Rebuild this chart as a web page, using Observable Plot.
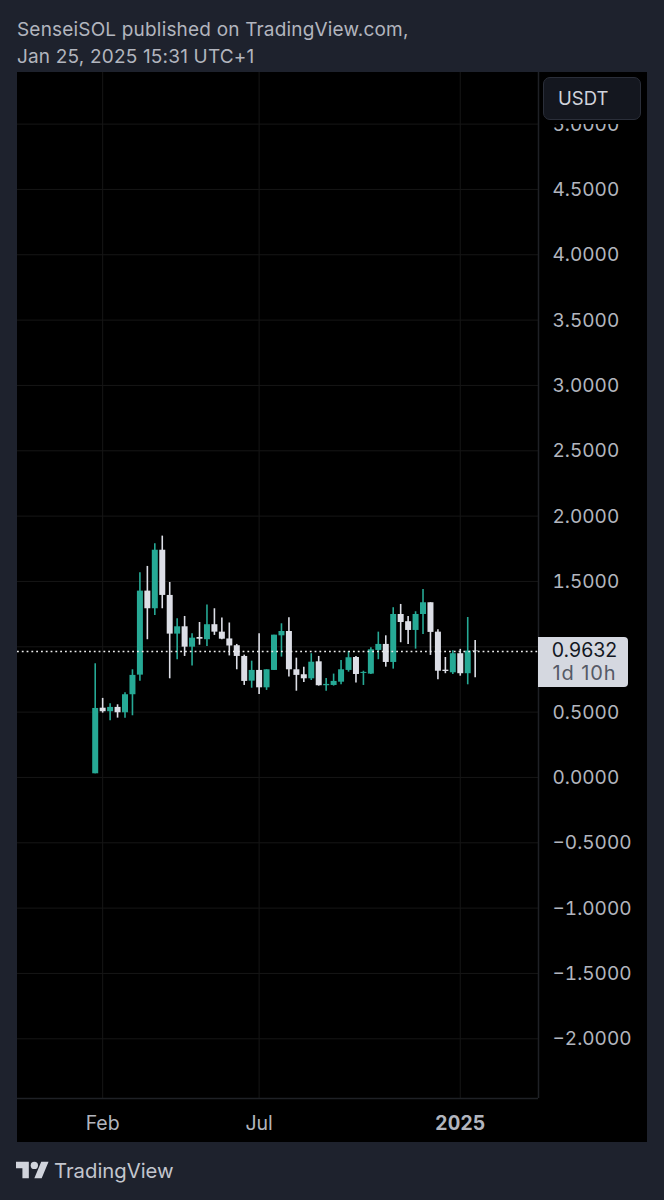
<!DOCTYPE html>
<html>
<head>
<meta charset="utf-8">
<script src="https://cdn.jsdelivr.net/npm/d3@7"></script>
<script src="https://cdn.jsdelivr.net/npm/@observablehq/plot@0.6"></script>
<style>
html,body{margin:0;padding:0;background:#1e222d;width:664px;height:1200px;overflow:hidden;font-family:Inter,"Noto Sans",sans-serif;}
#root{position:relative;width:664px;height:1200px;}
#head{position:absolute;left:17px;top:16px;color:#b2b5be;font-size:19px;line-height:27px;letter-spacing:.18px;}
#chart{position:absolute;left:17px;top:72px;width:630px;height:1070px;}
#chart svg{display:block;}
#usdt{position:absolute;left:543px;top:77px;width:98px;height:43px;box-sizing:border-box;background:#14171f;border:1px solid #2a2e39;border-radius:7px;color:#d1d4dc;font-size:18.5px;line-height:41px;padding-left:14px;box-shadow:0 4px 0 #000;}
#badge{position:absolute;left:538px;width:90px;height:50px;background:#d5d8e0;border-radius:0 4px 4px 0;text-align:center;font-size:19.5px;line-height:23px;color:#131722;padding:2px 0 0 3px;box-sizing:border-box;}
#badge div+div{color:#555a66;font-size:20px;letter-spacing:.9px;}
#foot{position:absolute;left:16px;top:1158px;height:24px;display:flex;align-items:center;color:#c3c6ce;font-size:20.3px;}
#foot svg{margin-right:5px;}
</style>
</head>
<body>
<div id="root">
  <div id="head">SenseiSOL published on TradingView.com,<br>Jan 25, 2025 15:31 UTC+1</div>
  <div id="chart"></div>
  <div id="usdt">USDT</div>
  <div id="foot"><svg width="33" height="24" viewBox="0 0 36 26" fill="#d1d4dc"><path d="M14 22H7V11H0V4h14v18zM28 22h-8l7.5-18h8L28 22z"/><circle cx="20" cy="8" r="4"/></svg>TradingView</div>
</div>
<script>
const opens  = [.028,.530,.503,.536,.495,.633,.783,1.426,1.291,1.739,1.393,1.097,1.153,.997,1.071,1.054,1.169,1.112,1.060,1.008,.926,.737,.819,.686,.819,1.084,1.117,.824,.786,.755,.885,.702,.704,.729,.819,.918,.796,.791,.972,1.018,.880,1.247,1.192,1.125,1.247,1.337,1.112,.821,.801,.947,.794,.967];
const closes = [.528,.503,.536,.495,.633,.781,1.426,1.291,1.739,1.393,1.097,1.153,.997,1.066,1.058,1.169,1.112,1.058,1.006,.926,.735,.819,.686,.824,1.089,1.117,.824,.781,.755,.882,.702,.712,.735,.824,.916,.788,.804,.977,1.018,.880,1.247,1.186,1.125,1.247,1.337,1.110,.813,.811,.947,.794,.967,.9632];
const highs  = [.870,.605,.564,.556,.648,.824,1.567,1.615,1.788,1.847,1.492,1.215,1.232,1.100,1.186,1.319,1.291,1.221,1.182,1.018,.936,.890,1.100,.824,1.089,1.176,1.222,.913,.844,.947,.926,.758,.791,.895,.964,.926,.813,.993,1.112,1.084,1.299,1.324,1.232,1.268,1.439,1.337,1.130,.918,.970,.980,1.224,1.048];
const lows   = [.028,.492,.434,.454,.454,.472,.737,1.054,1.240,1.291,.755,.901,.926,.852,1.012,1.003,1.087,1.054,.930,.824,.704,.683,.635,.666,.819,.921,.768,.660,.727,.742,.699,.660,.699,.709,.806,.722,.704,.788,.901,.844,.829,1.031,1.018,.982,1.094,.934,.748,.794,.788,.775,.709,.763];
const gridTicks = [-2,-1.5,-1,-.5,0,.5,1,1.5,2,2.5,3,3.5,4,4.5,5];
const labelTicks = [-2,-1.5,-1,-.5,0,.5,1.5,2,2.5,3,3.5,4,4.5,5];
const monthTicks = [1,22];
const monthLabels = ["Feb","Jul"];
const yearTicks = [49];
const yearLabels = ["2025"];
const lastPrice = 0.9632;
const countdown = "1d 10h";

const candles = opens.map((o,i)=>({i,open:o,close:closes[i],high:highs[i],low:lows[i],dir:closes[i]>=o?"up":"down"}));
const fmt = v => (v<0?"\u2212":"")+Math.abs(v).toFixed(4);
const xFont = {fontSize:19.5,fill:"#b2b5be",tickSize:0,tickPadding:18,anchor:"bottom"};

const chart = Plot.plot({
  width:630,height:1070,
  marginLeft:0,marginRight:109,marginTop:0,marginBottom:44,
  style:{background:"#000",fontFamily:"Inter, 'Noto Sans', sans-serif",overflow:"hidden"},
  x:{domain:[-10.43,59.5],axis:null},
  y:{domain:[-2.457,5.395],axis:null},
  color:{domain:["up","down"],range:["#26a995","#dcdee6"]},
  marks:[
    Plot.ruleY(gridTicks,{stroke:"#161616",strokeWidth:1}),
    Plot.ruleX([...monthTicks,...yearTicks],{stroke:"#161616",strokeWidth:1}),
    Plot.ruleX(candles,{x:"i",y1:"low",y2:"high",stroke:"dir",strokeWidth:1.6}),
    Plot.ruleX(candles,{x:"i",y1:"open",y2:"close",stroke:"dir",strokeWidth:6}),
    Plot.ruleY([lastPrice],{stroke:"#eeeeee",strokeWidth:1.5,strokeDasharray:"1.8,3"}),
    Plot.ruleX([59.5],{stroke:"#1f2126",strokeWidth:1.5,y1:-2.457,y2:5.395}),
    Plot.ruleY([-2.457],{stroke:"#1f2126",strokeWidth:1.5,x1:-10.43,x2:59.5}),
    Plot.axisY({anchor:"right",ticks:labelTicks,tickFormat:fmt,tickSize:0,tickPadding:14,textAnchor:"start",fontSize:19,dy:0.5,fill:"#b2b5be",label:null}),
    Plot.axisX({...xFont,ticks:monthTicks,tickFormat:v=>monthLabels[monthTicks.indexOf(v)],label:null}),
    Plot.axisX({...xFont,ticks:yearTicks,tickFormat:v=>yearLabels[yearTicks.indexOf(v)],fontWeight:"bold",label:null})
  ]
});
document.getElementById("chart").append(chart);

const badge = document.createElement("div");
badge.id = "badge";
badge.style.top = (72 + chart.scale("y").apply(lastPrice) - 14) + "px";
badge.innerHTML = "<div>"+lastPrice.toFixed(4)+"</div><div>"+countdown+"</div>";
document.getElementById("root").append(badge);
</script>
</body>
</html>
